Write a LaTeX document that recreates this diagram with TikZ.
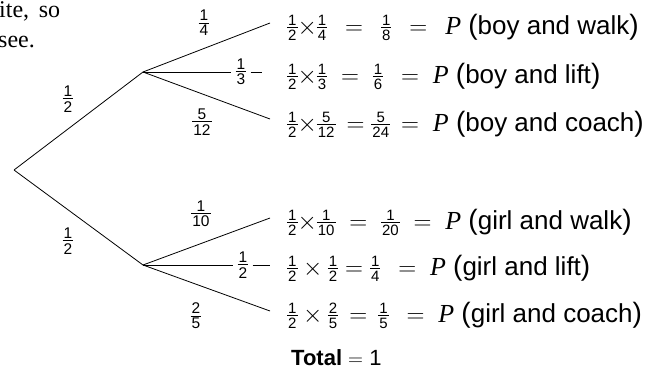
\documentclass[tikz,border=0pt]{standalone}
\usepackage{fontspec}
\setmainfont{Liberation Sans}
\newfontfamily\serif{Liberation Serif}
\newcommand\myfrac[3]{\vcenter{\hbox{\fontsize{#1}{#1}\selectfont
  \setbox0\hbox{#2}\setbox2\hbox{#3}%
  \dimen0=\ifdim\wd0>\wd2 \wd0\else\wd2\fi
  \advance\dimen0 by 2pt
  \vbox{\offinterlineskip\hbox to\dimen0{\hfil\box0\hfil}\kern1.8pt\hrule height0.8pt\kern2pt\hbox to\dimen0{\hfil\box2\hfil}}}}}
\newcommand\rf[2]{\myfrac{15}{#1}{#2}}
\newcommand\lf[2]{\ensuremath{\myfrac{15.5}{#1}{#2}}}
\newcommand\PP{\mbox{\serif\itshape P}}
\newcommand\lp{{\fontsize{28}{28}\selectfont(}}
\newcommand\rp{{\fontsize{28}{28}\selectfont)}}
\begin{document}
\begin{tikzpicture}[x=1pt,y=-1pt,
  br/.style={line width=0.8pt},
  lab/.style={inner sep=0pt},
  row/.style={anchor=base west,inner sep=0pt,font=\fontsize{26}{28}\selectfont},
  para/.style={anchor=base west,inner sep=0pt,font=\serif\fontsize{24}{28}\selectfont}]
\useasboundingbox (0,0) rectangle (648,375);
% paragraph fragment
\node[para] (p1) at (-1,17) {ite,\hspace{0.4em}so};
\node[para] (p2) at (-2,47) {see.};
% tree points
\coordinate (root) at (14,170);
\coordinate (boy) at (143,72);
\coordinate (girl) at (143,265);
\coordinate (b1) at (270,23);
\coordinate (b3) at (270,119);
\coordinate (g1) at (270,218);
\coordinate (g3) at (270,311);
\coordinate (b2e) at (262,72);
\coordinate (g2e) at (270,265);
% labels
\node[lab] (lr1) at (68,99) {\lf{1}{2}};
\node[lab] (lr2) at (68,241) {\lf{1}{2}};
\node[lab] (lb1) at (204,23) {\lf{1}{4}};
\node[lab,inner xsep=4pt] (lb2) at (241,72) {\lf{1}{3}};
\node[lab] (lb3) at (202,122) {\lf{5}{12}};
\node[lab] (lg1) at (201,214) {\lf{1}{10}};
\node[lab,inner xsep=4pt] (lg2) at (243,265) {\lf{1}{2}};
\node[lab] (lg3) at (196,316) {\lf{2}{5}};
% branches
\draw[br] (root) -- (boy);
\draw[br] (root) -- (girl);
\draw[br] (boy) -- (b1);
\draw[br] (boy) -- (lb2.west);
\draw[br] (lb2.east) -- (b2e);
\draw[br] (boy) -- (b3);
\draw[br] (girl) -- (g1);
\draw[br] (girl) -- (lg2.west);
\draw[br] (lg2.east) -- (g2e);
\draw[br] (girl) -- (g3);
% outcome rows
\node[row] (r1) at (287,34) {$\rf{1}{2}{\times}\rf{1}{4}\;\,=\;\,\rf{1}{8}\;\,=\;\,\PP$\ \lp boy and walk\rp};
\node[row] (r2) at (287,83) {$\rf{1}{2}{\times}\rf{1}{3}\;=\;\rf{1}{6}\;\,=\;\PP$\ \lp boy and lift\rp};
\node[row] (r3) at (287,131) {$\rf{1}{2}{\times}\rf{5}{12}\,=\rf{5}{24}\,=\;\PP$\ \lp boy and coach\rp};
\node[row] (r4) at (287,229) {$\rf{1}{2}{\times}\rf{1}{10}\;=\;\rf{1}{20}\;=\;\PP$\ \lp girl and walk\rp};
\node[row] (r5) at (287,275) {$\rf{1}{2}\times\rf{1}{2}=\rf{1}{4}\;\,=\;\PP$\ \lp girl and lift\rp};
\node[row] (r6) at (287,322) {$\rf{1}{2}\times\rf{2}{5}\,=\,\rf{1}{5}\;\,=\;\PP$\ \lp girl and coach\rp};
\node[row,font=\fontsize{22}{24}\selectfont] (tot) at (291,365) {\textbf{Total} $=$ 1};
\end{tikzpicture}
\end{document}
